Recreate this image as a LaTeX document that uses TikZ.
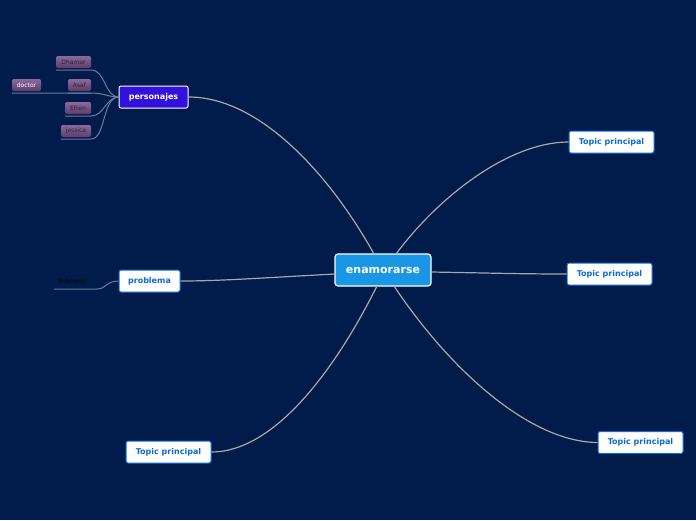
\documentclass[tikz,border=0pt]{standalone}
\usepackage{fontspec}
\setmainfont{DejaVu Sans}
\definecolor{bg}{HTML}{011B4B}
\definecolor{ctr}{HTML}{1A96E6}
\definecolor{pers}{HTML}{3311DD}
\definecolor{tblue}{HTML}{0A6BD6}
\definecolor{conn}{HTML}{A8A8A8}
\definecolor{sconn}{HTML}{6C7C9C}
\definecolor{subtop}{HTML}{8A6A9C}
\definecolor{subbot}{HTML}{5C3C70}
\begin{document}
\begin{tikzpicture}[x=1pt,y=-1pt,
  central/.style={draw=white,line width=1.2pt,fill=ctr,rounded corners=3pt,minimum width=96pt,minimum height=32pt,inner sep=0pt,text=white,font=\fontsize{11}{12}\selectfont\bfseries},
  maintopic/.style={draw=tblue,line width=1pt,fill=white,rounded corners=2pt,minimum width=85pt,minimum height=22pt,inner sep=0pt,text=tblue,font=\fontsize{8}{9}\selectfont\bfseries},
  perstopic/.style={draw=white,line width=1pt,fill=pers,rounded corners=2pt,minimum width=69pt,minimum height=22pt,inner sep=0pt,text=white,font=\fontsize{8}{9}\selectfont\bfseries},
  subtopic/.style={top color=subtop,bottom color=subbot,rounded corners=2pt,minimum height=12pt,inner sep=0pt,text=black!85,font=\fontsize{6}{7}\selectfont},
  mainconn/.style={draw=conn,line width=1.2pt},
  subconn/.style={draw=sconn,line width=1pt}
]
\fill[bg] (0,0) rectangle (696,520);
\useasboundingbox (0,0) rectangle (696,520);

% main nodes
\node[central] (c) at (383,270) {enamorarse};
\node[perstopic] (pers) at (153.5,97) {personajes};
\node[maintopic,minimum width=61pt] (prob) at (149.5,281) {problema};
\node[maintopic] (t1) at (611.5,142) {Topic principal};
\node[maintopic] (t2) at (609.5,274) {Topic principal};
\node[maintopic] (t3) at (640.5,442.5) {Topic principal};
\node[maintopic] (t4) at (168.5,452) {Topic principal};

% sub nodes
\node[subtopic,minimum width=35pt] (dh) at (73.5,62) {Dhamar};
\node[subtopic,minimum width=23pt] (as) at (79.5,85) {Asaf};
\node[subtopic,minimum width=29pt,text=white] (doc) at (26.5,85) {doctor};
\node[subtopic,minimum width=26pt] (ef) at (78,108) {Efren};
\node[subtopic,minimum width=30pt] (je) at (76,131) {jessica};
\node[font=\fontsize{6}{7}\selectfont,text=black,inner sep=0pt] (sub) at (72,281) {Subtema};

% anchor coordinates
\coordinate (cT1) at (374,254);
\coordinate (cT2) at (396,254);
\coordinate (cB1) at (377,286);
\coordinate (cB2) at (394,286);
\coordinate (cL) at (335,274);
\coordinate (cR) at (431,272);
\coordinate (pL) at (119,97);
\coordinate (dhE) at (91,70);
\coordinate (asE) at (91,93);
\coordinate (efE) at (91,116);
\coordinate (jeE) at (91,139);
\coordinate (subS) at (54,289);
\coordinate (subE) at (97,289);

% main connectors
\draw[mainconn] (cT1) .. controls (330,175) and (260,97) .. (pers.east);
\draw[mainconn] (cT2) .. controls (440,195) and (510,142) .. (t1.west);
\draw[mainconn] (cR) .. controls (490,273) and (520,274) .. (t2.west);
\draw[mainconn] (cB2) .. controls (450,370) and (530,442) .. (t3.west);
\draw[mainconn] (cB1) .. controls (330,380) and (270,452) .. (t4.east);
\draw[mainconn] (cL) .. controls (260,278) and (220,281) .. (prob.east);

% sub connectors
\draw[subconn] (dh.south west) ++(0,2) -- (dhE) .. controls (106,70) and (104,97) .. (pL);
\draw[subconn] (doc.south west) ++(0,2) -- (as.south west |- asE) -- (asE) .. controls (104,93) and (108,97) .. (pL);
\draw[subconn] (as.south west) ++(0,2) -- (asE);
\draw[subconn] (ef.south west) ++(0,2) -- (efE) .. controls (104,116) and (106,97) .. (pL);
\draw[subconn] (je.south west) ++(0,2) -- (jeE) .. controls (106,139) and (102,97) .. (pL);
\draw[subconn] (subS) -- (subE) .. controls (106,289) and (106,281) .. (prob.west);
\end{tikzpicture}
\end{document}
